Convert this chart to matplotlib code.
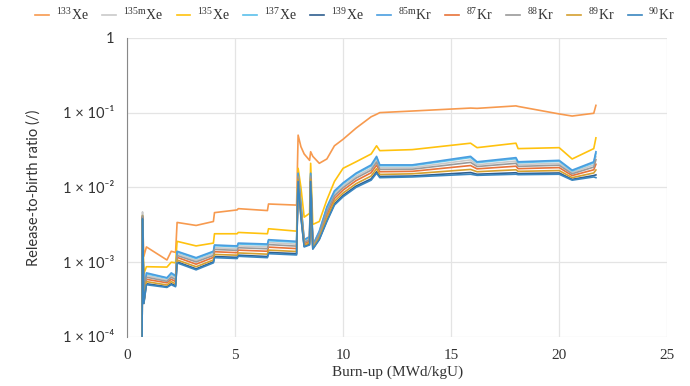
import matplotlib
matplotlib.use("Agg")
import matplotlib.pyplot as plt
from matplotlib.ticker import FixedLocator, FixedFormatter

# burn-up grid (MWd/kgU), repeated x values are the steps
burnup = [0.70, 0.72, 0.78, 0.90, 1.85, 2.05, 2.25, 2.32, 3.2, 4.0,
          4.05, 5.1, 5.15, 6.5, 6.55, 7.85, 7.92, 8.05, 8.2, 8.45,
          8.5, 8.6, 8.9, 9.25, 9.6, 10.0, 10.6, 11.3, 11.55, 11.7,
          13.2, 15.9, 16.2, 18.0, 18.1, 20.0, 20.6, 21.6, 21.7]

# release-to-birth ratios, in units of 1e-4
xe133 = [1, 40, 12, 16, 10.7, 14, 13.5, 34, 31, 35,
         46, 50, 52, 49, 60, 58, 500, 350, 280, 230,
         300, 260, 210, 240, 360, 440, 620, 880, 950, 1000,
         1050, 1150, 1140, 1230, 1210, 960, 900, 980, 1250]
xe135m = [1, 47, 2.95, 6.65, 5.8, 6.65, 6.1, 13.0, 10.6, 13.0,
          15.6, 15.2, 16.5, 16.0, 18.3, 17.4, 146, 55, 19, 20.8,
          146, 16.5, 24.5, 50, 82, 105, 141, 181, 234, 184,
          184, 233, 201, 225, 202, 210, 159, 200, 259]
xe135 = [1, 42, 7, 8.7, 8.6, 10, 9.8, 19, 16.5, 18,
         24, 24, 25, 24, 28, 26, 180, 100, 40, 45,
         210, 32, 35, 68, 120, 180, 220, 280, 360, 310,
         320, 390, 340, 390, 330, 340, 240, 330, 460]
xe137 = [1, 40, 2.98, 7.0, 6.1, 7.0, 6.45, 13.7, 11.2, 13.7,
         16.6, 16.1, 17.5, 17.0, 19.4, 18.5, 152, 58, 19.7, 21.6,
         152, 16.8, 25.5, 53, 87, 112, 151, 194, 252, 195,
         195, 251, 214, 242, 214, 224, 166, 213, 287]
xe139 = [1, 38, 2.81, 5.15, 4.7, 5.15, 4.85, 10.1, 8.15, 10.1,
         11.9, 11.6, 12.4, 11.9, 13.5, 13.0, 122, 41, 16.3, 17.4,
         122, 15.1, 20.4, 36, 60, 78, 104, 130, 162, 140,
         142, 158, 150, 157, 153, 156, 128, 144, 147]
kr85m = [1, 40, 3.0, 7.2, 6.2, 7.2, 6.6, 14, 11.5, 14,
         17, 16.5, 18, 17.5, 20, 19, 155, 60, 20, 22,
         155, 17, 26, 55, 90, 115, 155, 200, 260, 200,
         200, 260, 220, 250, 220, 230, 170, 220, 300]
kr87 = [1, 40, 2.88, 5.9, 5.3, 5.9, 5.5, 11.6, 9.4, 11.6,
        13.8, 13.4, 14.5, 14.0, 15.9, 15.2, 135, 48, 17.7, 19.1,
        135, 15.8, 22.5, 43, 71, 92, 123, 157, 199, 162,
        164, 196, 177, 192, 178, 184, 144, 172, 204]
kr88 = [1, 42, 2.92, 6.3, 5.55, 6.3, 5.85, 12.3, 10.1, 12.3,
        14.8, 14.4, 15.6, 15.1, 17.2, 16.4, 141, 52, 18.4, 20,
        141, 16.2, 23.6, 47, 77, 99, 133, 170, 218, 174,
        175, 216, 190, 210, 191, 198, 152, 187, 234]
kr89 = [1, 38, 2.84, 5.5, 4.95, 5.5, 5.1, 10.7, 8.7, 10.7,
        12.7, 12.4, 13.3, 12.8, 14.5, 13.9, 128, 44, 16.9, 18.1,
        128, 15.4, 21.3, 39, 65, 84, 112, 142, 178, 149,
        152, 174, 162, 172, 164, 168, 135, 156, 171]
kr90 = [1, 38, 2.8, 5.0, 4.6, 5.0, 4.7, 9.8, 7.9, 9.8,
        11.5, 11.2, 12, 11.5, 13, 12.5, 120, 40, 16, 17,
        120, 15, 20, 35, 58, 75, 100, 125, 155, 135,
        138, 150, 145, 150, 148, 150, 125, 138, 135]

series = [
    (r"$^{133}$Xe", xe133, "#F79A4F"),
    (r"$^{135\mathrm{m}}$Xe", xe135m, "#C9C9C9"),
    (r"$^{135}$Xe", xe135, "#FFC20E"),
    (r"$^{137}$Xe", xe137, "#5BC0EB"),
    (r"$^{139}$Xe", xe139, "#2F5F8F"),
    (r"$^{85\mathrm{m}}$Kr", kr85m, "#4A9EE0"),
    (r"$^{87}$Kr", kr87, "#E8733A"),
    (r"$^{88}$Kr", kr88, "#9A9A9A"),
    (r"$^{89}$Kr", kr89, "#D4A030"),
    (r"$^{90}$Kr", kr90, "#3A86C0"),
]

ytick_vals = [1e-4, 1e-3, 1e-2, 1e-1, 1]
ytick_labels = ["1 × 10⁻⁴", "1 × 10⁻³", "1 × 10⁻²", "1 × 10⁻¹", "1"]

plt.rcParams['mathtext.fontset'] = 'custom'
plt.rcParams['mathtext.rm'] = 'Liberation Serif'

fig = plt.figure(figsize=(6.9, 3.86), dpi=100)
ax = fig.add_axes([0.184, 0.127, 0.783, 0.775])

for label, vals, color in series:
    ax.plot(burnup, [v * 1e-4 for v in vals], color=color, lw=1.2, label=label)

ax.set_yscale('log')
ax.set_ylim(1e-4, 1)
ax.set_xlim(0, 25)
ax.yaxis.set_major_locator(FixedLocator(ytick_vals))
ax.yaxis.set_major_formatter(FixedFormatter(ytick_labels))
ax.yaxis.set_minor_locator(FixedLocator([]))
ax.set_xticks([0, 5, 10, 15, 20, 25])

ax.grid(True, color='#E4E4E4', lw=0.9)
ax.set_axisbelow(True)
for s in ['top', 'right', 'bottom']:
    ax.spines[s].set_visible(False)
ax.spines['left'].set_color('#888888')
ax.tick_params(axis='y', length=0, pad=9)
ax.tick_params(axis='x', length=0, pad=9)

for t in ax.get_yticklabels():
    t.set_family(['Lato', 'DejaVu Sans'])
    t.set_fontsize(10.5)
    t.set_color('#333333')
for t in ax.get_xticklabels():
    t.set_family(['Liberation Serif', 'DejaVu Serif'])
    t.set_fontsize(11)
    t.set_color('#333333')

ax.set_xlabel('Burn-up (MWd/kgU)', family='Liberation Serif', fontsize=11,
              color='#333333', labelpad=2)
ax.set_ylabel('Release-to-birth ratio (/)', family='Lato', fontsize=10.5,
              color='#333333', labelpad=16)

leg = fig.legend(loc='center', bbox_to_anchor=(0.515, 0.963), ncol=10,
                 frameon=False, handlelength=1.0, handletextpad=0.5,
                 columnspacing=0.95, prop={'family': 'Liberation Serif', 'size': 10})
for t in leg.get_texts():
    t.set_color('#333333')

fig.savefig('out.png', dpi=100)
